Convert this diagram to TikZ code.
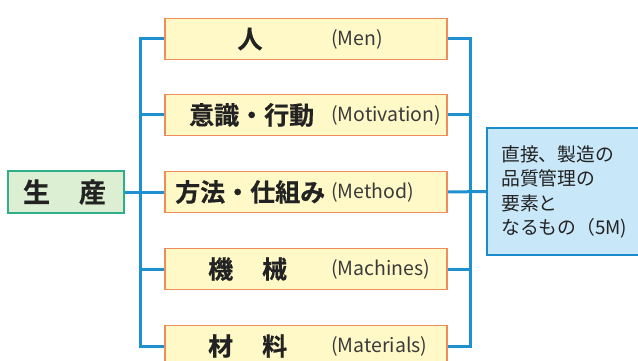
\documentclass[tikz,border=0pt]{standalone}
\usepackage{fontspec}
\setmainfont{Noto Sans CJK JP}
\newfontfamily\jpheavy{Noto Sans CJK JP Bold}[FakeBold=0.6]
\definecolor{lineblue}{HTML}{1E90D0}
\definecolor{mfill}{HTML}{FFF9C8}
\definecolor{mdraw}{HTML}{EE8C5A}
\definecolor{gfill}{HTML}{DDEFD3}
\definecolor{gdraw}{HTML}{2FAE8A}
\definecolor{bfill}{HTML}{C8E7F8}
\definecolor{bdraw}{HTML}{1A8BCB}
\definecolor{txt}{HTML}{222222}
\definecolor{entxt}{HTML}{3A3A3A}
\begin{document}
\begin{tikzpicture}[x=1pt,y=-1pt,
  mbox/.style={draw=mdraw,fill=mfill,line width=1.6pt,minimum width=282pt,minimum height=41pt,inner sep=0pt},
  gbox/.style={draw=gdraw,fill=gfill,line width=1.6pt,minimum width=116pt,minimum height=42pt,inner sep=0pt},
  bbox/.style={draw=bdraw,fill=bfill,line width=1.6pt,minimum width=165pt,minimum height=127pt,inner sep=0pt},
  conn/.style={draw=lineblue,line width=3pt},
  jp/.style={font=\jpheavy\fontsize{25}{28}\selectfont,text=txt,inner sep=0pt},
  en/.style={font=\fontsize{19.5}{22}\selectfont,text=entxt,inner sep=0pt,anchor=west},
  rt/.style={font=\fontsize{18.8}{24.5}\selectfont,text=txt,inner sep=0pt,align=left,anchor=west}]
\useasboundingbox (0,0) rectangle (638,361);
\clip (0,0) rectangle (638,361);
\coordinate (lt) at (140,39);
\coordinate (lb) at (140,346);
\coordinate (rtp) at (470,39);
\coordinate (rbt) at (470,346);
\node[mbox] (m1) at (306,39) {};
\node[mbox] (m2) at (306,115) {};
\node[mbox] (m3) at (306,192) {};
\node[mbox] (m4) at (306,269) {};
\node[mbox] (m5) at (306,346) {};
\node[gbox] (sei) at (66,192) {};
\node[bbox] (blue) at (569.5,191.5) {};
\draw[conn] (m1.west) -- (lt) -- (lb) -- (m5.west);
\draw[conn] (m2.west) -- (m2.west -| lt);
\draw[conn] (m4.west) -- (m4.west -| lt);
\draw[conn] (sei.east) -- (m3.west);
\draw[conn] (m1.east) -- (rtp) -- (rbt) -- (m5.east);
\draw[conn] (m2.east) -- (m2.east -| rtp);
\draw[conn] (m4.east) -- (m4.east -| rtp);
\draw[conn] (m3.east) -- (blue.west);
\node[mbox] at (m1) {};
\node[mbox] at (m2) {};
\node[mbox] at (m3) {};
\node[mbox] at (m4) {};
\node[mbox] at (m5) {};
\node[gbox] at (sei) {};
\node[bbox] at (blue) {};
\node[jp] (t1) at (250,39) {人};
\node[en] (e1) at (331,39) {(Men)};
\node[jp,anchor=west] (t2) at (189,115) {意識・行動};
\node[en] (e2) at (331,115) {(Motivation)};
\node[jp,anchor=west] (t3) at (175,192) {方法・仕組み};
\node[en] (e3) at (331,192) {(Method)};
\node[jp,anchor=west] (t4) at (208,269) {機\hspace{29pt}械};
\node[en] (e4) at (331,269) {(Machines)};
\node[jp,anchor=west] (t5) at (208,346) {材\hspace{29pt}料};
\node[en] (e5) at (331,346) {(Materials)};
\node[jp,font=\jpheavy\fontsize{27}{30}\selectfont] (ts) at (64.5,192) {生\hspace{29pt}産};
\node[rt] (bt) at (501,192) {直接、製造の\\品質管理の\\要素と\\なるもの（5M)};
\end{tikzpicture}
\end{document}
